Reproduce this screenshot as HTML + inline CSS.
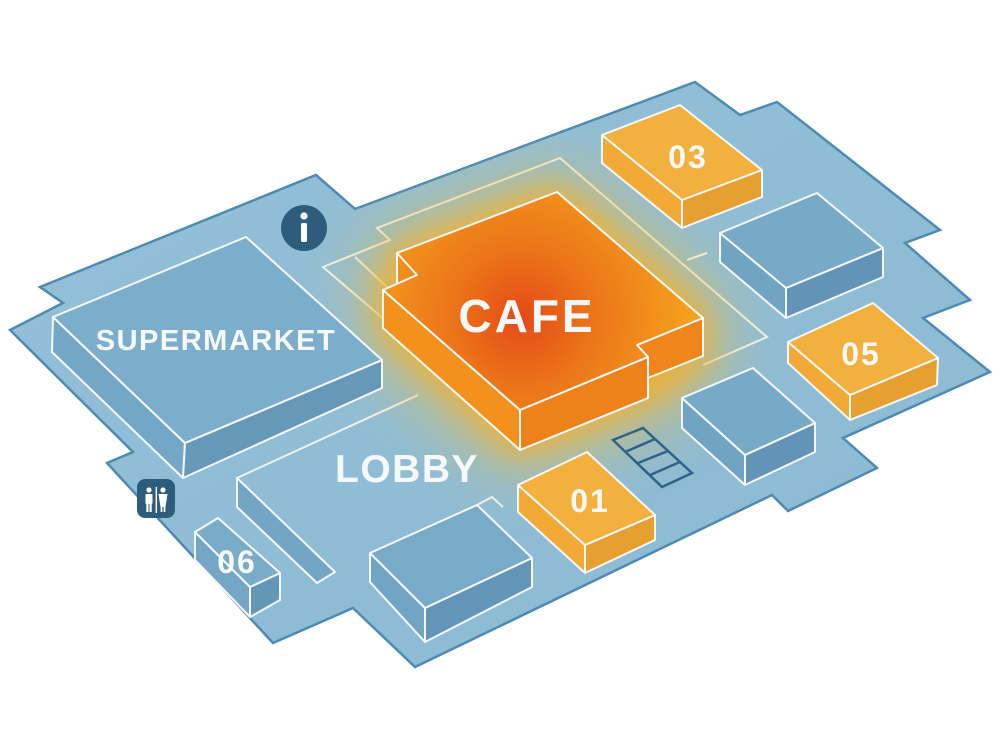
<!DOCTYPE html>
<html><head><meta charset="utf-8"><style>
html,body{margin:0;padding:0;background:#fff;}
svg{display:block;}
text{font-family:"Liberation Sans",sans-serif;font-weight:bold;fill:#f6f9fb;}
</style></head><body>
<svg width="1000" height="750" viewBox="0 0 1000 750" xmlns="http://www.w3.org/2000/svg">
<defs>
<filter id="g1" x="-80%" y="-80%" width="260%" height="260%"><feMorphology operator="dilate" radius="14"/><feGaussianBlur stdDeviation="34"/></filter>
<filter id="g2" x="-60%" y="-60%" width="220%" height="220%"><feMorphology operator="dilate" radius="4"/><feGaussianBlur stdDeviation="14"/></filter>
<clipPath id="floorClip"><polygon points="40,287 316,175 355,209 695,82 740,115 777,102 940,230 905,243 970,300 923,318 990,372 843,438 877,468 788,511 772,495 415,667 353,608 273,643 107,463 133,452 10,330 63,303"/></clipPath>
<radialGradient id="cafeTop" gradientUnits="userSpaceOnUse" cx="522" cy="318" r="175">
<stop offset="0" stop-color="#e44a16"/><stop offset="0.4" stop-color="#ec7419"/><stop offset="1" stop-color="#f4a41e"/>
</radialGradient>
<linearGradient id="floorG" x1="0" y1="0" x2="1" y2="1">
<stop offset="0" stop-color="#93c0d8"/><stop offset="1" stop-color="#8cbad3"/>
</linearGradient>
</defs>

<!-- floor -->
<polygon points="40,287 316,175 355,209 695,82 740,115 777,102 940,230 905,243 970,300 923,318 990,372 843,438 877,468 788,511 772,495 415,667 353,608 273,643 107,463 133,452 10,330 63,303" fill="url(#floorG)" stroke="#4d8bb4" stroke-width="2.5" stroke-linejoin="miter"/>

<!-- enclosure / lobby lines -->
<g fill="none" stroke="#eef2ec" stroke-width="2" stroke-linejoin="miter">
<polyline points="703,365 767,337 560,158 377,228 390,240 323,267 385,320"/>
<line x1="355" y1="257" x2="388" y2="288"/>
<line x1="687" y1="260" x2="707" y2="253"/>
<line x1="237" y1="478" x2="418" y2="395"/>
<polyline points="477,505 492,497 503,507"/>
</g>

<!-- glow -->
<g clip-path="url(#floorClip)">
<polygon points="383,290 397,253 557,192 703,318 703,356 648,398 520,450 383,328" fill="#f2bd3c" opacity="0.78" filter="url(#g1)"/>
<polygon points="383,290 397,253 557,192 703,318 703,356 648,398 520,450 383,328" fill="#f3ad2a" opacity="0.75" filter="url(#g2)"/>
</g>

<g stroke="#f4f8fa" stroke-width="2" stroke-linejoin="round">
<!-- supermarket -->
<polygon points="53,317 185,443 183,478 52,352" fill="#74a6c5"/>
<polygon points="185,443 382,360 382,388 183,478" fill="#6798ba"/>
<polygon points="53,317 246,237 382,360 185,443" fill="#7cadcb"/>

<!-- wall -->
<polygon points="237,478 335,572 317,583 237,507" fill="#74a5c4"/>

<!-- block 06 -->
<polygon points="195,532 250,587 250,617 195,560" fill="#74a6c5"/>
<polygon points="250,587 280,573 280,600 250,617" fill="#6496b8"/>
<polygon points="195,532 218,518 280,573 250,587" fill="#7aabc9"/>

<!-- lobby block -->
<polygon points="370,553 425,608 425,642 370,582" fill="#72a4c4"/>
<polygon points="425,608 532,558 532,587 425,642" fill="#6494b7"/>
<polygon points="370,553 477,505 532,558 425,608" fill="#79aac8"/>

<!-- block 01 -->
<polygon points="518,485 585,545 585,573 518,512" fill="#f2aa36"/>
<polygon points="585,545 655,515 655,540 585,573" fill="#e5a030"/>
<polygon points="518,485 587,452 655,515 585,545" fill="#f3b03c"/>

<!-- mid right blue block -->
<polygon points="682,398 745,455 745,485 682,428" fill="#71a3c3"/>
<polygon points="745,455 815,423 815,452 745,485" fill="#6393b6"/>
<polygon points="682,398 753,368 815,423 745,455" fill="#78a9c7"/>

<!-- block 05 -->
<polygon points="788,342 850,395 850,420 788,363" fill="#f2aa36"/>
<polygon points="850,395 938,358 937,385 850,420" fill="#e5a030"/>
<polygon points="788,342 873,303 938,358 850,395" fill="#f3b03c"/>

<!-- upper right blue block -->
<polygon points="720,233 786,288 786,318 720,262" fill="#71a3c3"/>
<polygon points="786,288 883,248 883,277 786,318" fill="#6393b6"/>
<polygon points="720,233 817,193 883,248 786,288" fill="#78a9c7"/>

<!-- block 03 -->
<polygon points="602,135 682,200 682,228 602,163" fill="#f2aa36"/>
<polygon points="682,200 762,170 762,197 682,228" fill="#e5a030"/>
<polygon points="602,135 680,105 762,170 682,200" fill="#f3b03c"/>

<!-- cafe -->
<polygon points="637,345 703,318 703,356 648,378 648,357" fill="#ee861c"/>
<polygon points="383,290 520,410 520,450 383,328" fill="#f2921c"/>
<polygon points="520,410 648,357 648,398 520,450" fill="#ed821a"/>
<polygon points="397,253 557,192 703,318 637,345 648,357 520,410 383,290 397,284" fill="url(#cafeTop)" stroke="none"/>
<polyline points="397,253 557,192 703,318 637,345 648,357 520,410 383,290 417,275 397,253 397,284" fill="none"/>
</g>

<!-- stairs -->
<g fill="none" stroke="#2f6386" stroke-width="2.5">
<polygon points="613,440 643,428 692,473 662,487"/>
<line x1="625" y1="452" x2="655" y2="439"/>
<line x1="638" y1="463" x2="668" y2="451"/>
<line x1="650" y1="475" x2="680" y2="462"/>
</g>

<!-- info icon -->
<circle cx="304" cy="228" r="23" fill="#2e5c7c"/>
<circle cx="304" cy="216" r="3.6" fill="#fff"/>
<rect x="301" y="223" width="6" height="19" rx="1.5" fill="#fff"/>

<!-- restroom icon -->
<rect x="137" y="479" width="38" height="39" rx="8" fill="#2e5c7c"/>
<g fill="#fff">
<circle cx="149" cy="490" r="2.6"/>
<rect x="145.5" y="494" width="7" height="10" rx="1"/>
<rect x="146.3" y="503" width="2.2" height="9"/>
<rect x="149.5" y="503" width="2.2" height="9"/>
<rect x="155.6" y="487" width="1.4" height="26"/>
<circle cx="163" cy="490" r="2.6"/>
<polygon points="158.5,494 167.5,494 165.5,507 160.5,507"/>
<rect x="160.6" y="506" width="1.8" height="6"/>
<rect x="163.6" y="506" width="1.8" height="6"/>
</g>

<!-- labels -->
<text x="216" y="350" font-size="29" letter-spacing="1.5" text-anchor="middle">SUPERMARKET</text>
<text x="527" y="332" font-size="46" letter-spacing="3" text-anchor="middle">CAFE</text>
<text x="335" y="482" font-size="39" letter-spacing="1.5">LOBBY</text>
<text x="688" y="168" font-size="32" letter-spacing="2" text-anchor="middle">03</text>
<text x="861" y="365" font-size="32" letter-spacing="2" text-anchor="middle">05</text>
<text x="590" y="512" font-size="32" letter-spacing="2" text-anchor="middle">01</text>
<text x="237" y="573" font-size="32" letter-spacing="2" text-anchor="middle">06</text>
</svg>
</body></html>
